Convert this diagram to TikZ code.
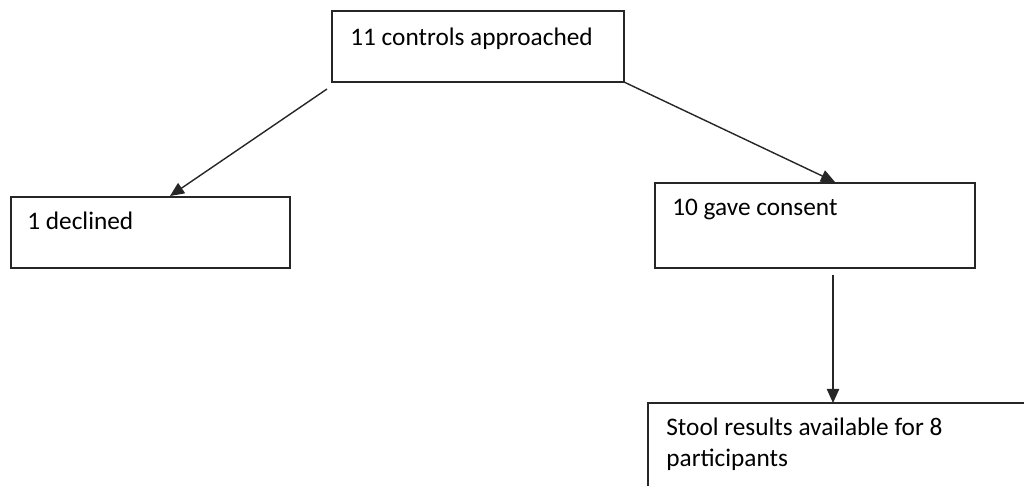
\documentclass[tikz,border=0pt]{standalone}
\usepackage{fontspec}
\setmainfont{Carlito}
\usetikzlibrary{arrows.meta,positioning}

\begin{document}
\begin{tikzpicture}[
    x=0.02cm, y=-0.02cm,
    box/.style={rectangle, draw=black!85, line width=0.8pt, anchor=north west, inner sep=0pt, outer sep=0pt},
    txt/.style={anchor=base west, inner sep=0pt, font=\fontsize{14.4}{17.6}\selectfont, align=left},
    arrow/.style={-{Triangle[length=8pt,width=7pt]}, line width=0.8pt, black!85}
]
\useasboundingbox (0,0) rectangle (1024,485);
% Approached
\node[box, minimum width=292*0.02cm, minimum height=71*0.02cm] (appr) at (332,11) {};
\node[txt] (apprtxt) at (350,45) {11 controls approached};
% Declined
\node[box, minimum width=279*0.02cm, minimum height=71*0.02cm] (decl) at (11,197) {};
\node[txt] (decltxt) at (27,229) {1 declined};
% Consent
\node[box, minimum width=320*0.02cm, minimum height=85*0.02cm] (cons) at (655,183) {};
\node[txt] (constxt) at (672,215) {10 gave consent};
% Stool results
\node[box, minimum width=400*0.02cm, minimum height=100*0.02cm] (stool) at (648,403) {};
\node[txt] (stooltxt) at (666,466) {Stool results available for 8\\participants};
% Arrows
\coordinate (approut) at (327,89);
\coordinate (declend) at (170,196);
\coordinate (consend) at (835,182);
\coordinate (consout) at (833,275);
\draw[arrow] (approut) -- (declend);
\draw[arrow] (appr.south east) -- (consend);
\draw[arrow] (consout) -- (stool.north west -| consout);
\end{tikzpicture}
\end{document}
